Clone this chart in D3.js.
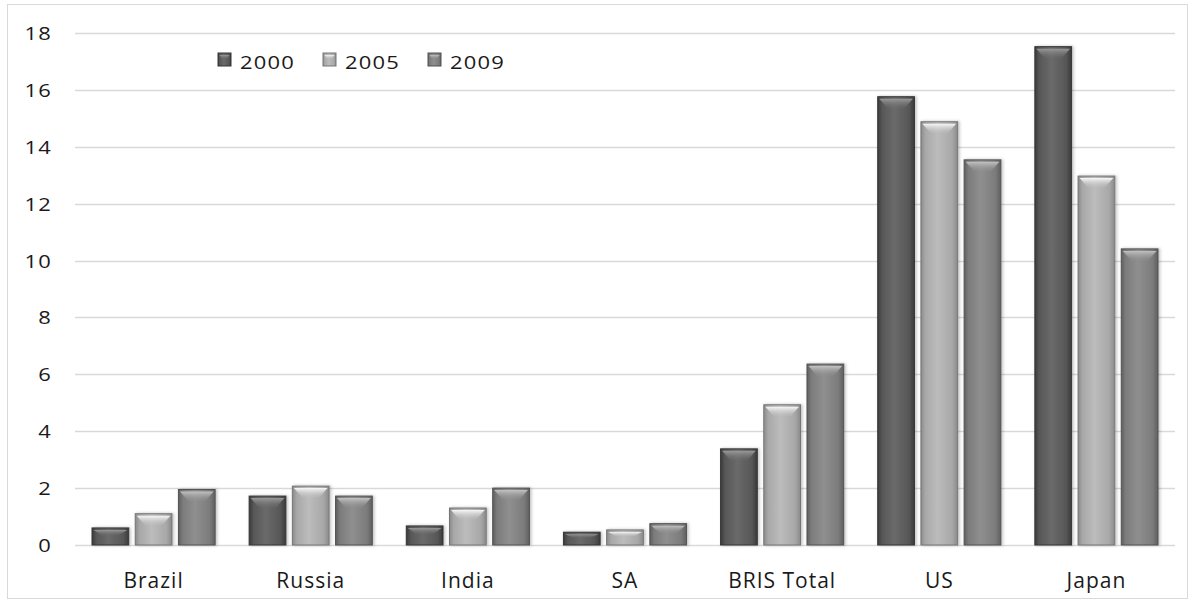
<!DOCTYPE html>
<html>
<head>
<meta charset="utf-8">
<script src="https://cdn.jsdelivr.net/npm/d3@7"></script>
<style>
  html, body { margin: 0; padding: 0; background: #fff; }
  svg { display: block; }
  text { font-family: "Open Sans", sans-serif; fill: #1a1a1a; }
</style>
</head>
<body>
<svg id="chart" width="1194" height="604"></svg>
<script>
const categories = ["Brazil", "Russia", "India", "SA", "BRIS Total", "US", "Japan"];
const seriesNames = ["2000", "2005", "2009"];
const values2000 = [0.6, 1.72, 0.67, 0.45, 3.38, 15.76, 17.52];
const values2005 = [1.1, 2.07, 1.3, 0.53, 4.93, 14.88, 12.97];
const values2009 = [1.95, 1.72, 2.0, 0.75, 6.36, 13.54, 10.41];
const yTicks = [0, 2, 4, 6, 8, 10, 12, 14, 16, 18];

const seriesValues = [values2000, values2005, values2009];
const palette = {
  "2000": { base: "#575757", light: "#6a6a6a", dark: "#3a3a3a", cap: "#9a9a9a", edge: "#363636" },
  "2005": { base: "#a8a8a8", light: "#bcbcbc", dark: "#8a8a8a", cap: "#f7f7f7", edge: "#767676" },
  "2009": { base: "#7c7c7c", light: "#8f8f8f", dark: "#5f5f5f", cap: "#c2c2c2", edge: "#525252" }
};

const svg = d3.select("#chart");
svg.append("rect").attr("x", 7.5).attr("y", 4.5).attr("width", 1180).attr("height", 594)
  .attr("fill", "#fff").attr("stroke", "#d9d9d9");

const plot = { left: 75, right: 1175, top: 33, bottom: 545 };
const y = d3.scaleLinear().domain([0, 18]).range([plot.bottom, plot.top]);
const x0 = d3.scaleBand().domain(categories).range([plot.left, plot.right]).padding(0);
const x1 = d3.scaleBand().domain(seriesNames).range([17, x0.bandwidth() - 17]).paddingInner(0.15).paddingOuter(0);

// gradients for the bevelled bars
const defs = svg.append("defs");
seriesNames.forEach(s => {
  const p = palette[s];
  const g = defs.append("linearGradient").attr("id", "body" + s).attr("x1", 0).attr("x2", 1).attr("y1", 0).attr("y2", 0);
  g.append("stop").attr("offset", "0%").attr("stop-color", p.dark);
  g.append("stop").attr("offset", "12%").attr("stop-color", p.base);
  g.append("stop").attr("offset", "45%").attr("stop-color", p.light);
  g.append("stop").attr("offset", "85%").attr("stop-color", p.base);
  g.append("stop").attr("offset", "100%").attr("stop-color", p.dark);
  const c = defs.append("linearGradient").attr("id", "cap" + s).attr("x1", 0).attr("x2", 0).attr("y1", 0).attr("y2", 1);
  c.append("stop").attr("offset", "0%").attr("stop-color", p.cap);
  c.append("stop").attr("offset", "100%").attr("stop-color", p.light).attr("stop-opacity", 0.15);
});
const shadow = defs.append("filter").attr("id", "shadow").attr("x", "-20%").attr("y", "-20%").attr("width", "140%").attr("height", "140%");
shadow.append("feDropShadow").attr("dx", 1.5).attr("dy", 0).attr("stdDeviation", 1.5).attr("flood-color", "#000").attr("flood-opacity", 0.25);

// grid lines
svg.append("g").selectAll("line").data(yTicks).join("line")
  .attr("x1", plot.left).attr("x2", plot.right)
  .attr("y1", d => Math.round(y(d)) + 0.5).attr("y2", d => Math.round(y(d)) + 0.5)
  .attr("stroke", "#d9d9d9").attr("stroke-width", 1.5);

// y axis labels
const yAxis = d3.axisLeft(y).tickValues(yTicks).tickSize(0).tickPadding(0).tickFormat(d3.format("d"));
const yg = svg.append("g").attr("transform", `translate(${plot.left - 23},0)`).call(yAxis);
yg.select(".domain").remove();
yg.selectAll("text").attr("font-size", 18).attr("letter-spacing", 1).attr("dy", "0.36em")
  .attr("font-family", "Open Sans").attr("fill", "#1a1a1a")
  .attr("transform", "scale(1.22,1)");

// x axis labels
const xAxis = d3.axisBottom(x0).tickSize(0).tickPadding(0);
const xg = svg.append("g").attr("transform", `translate(0,${plot.bottom + 43})`).call(xAxis);
xg.select(".domain").remove();
xg.selectAll("text").attr("font-size", 21).attr("letter-spacing", 1).attr("dy", 0)
  .attr("font-family", "Open Sans").attr("fill", "#1a1a1a");

// bars
const rows = categories.map((c, i) => ({ cat: c, items: seriesNames.map((s, j) => ({ s, v: seriesValues[j][i] })) }));
const groups = svg.append("g").selectAll("g").data(rows).join("g")
  .attr("transform", d => `translate(${x0(d.cat)},0)`);
const bar = groups.selectAll("g.bar").data(d => d.items).join("g").attr("class", "bar");
bar.append("rect")
  .attr("x", d => x1(d.s)).attr("y", d => y(d.v))
  .attr("width", x1.bandwidth()).attr("height", d => y(0) - y(d.v))
  .attr("fill", d => `url(#body${d.s})`)
  .attr("stroke", d => palette[d.s].edge).attr("stroke-width", 1)
  .attr("filter", "url(#shadow)");
bar.append("polygon")
  .attr("points", d => {
    const x = x1(d.s), w = x1.bandwidth(), top = y(d.v);
    const h = Math.min(12, (y(0) - top) * 0.45);
    const inset = w * 0.28;
    return [[x + 1.5, top + 2], [x + w - 1.5, top + 2], [x + w - inset, top + h], [x + inset, top + h]].map(p => p.join(",")).join(" ");
  })
  .attr("fill", d => `url(#cap${d.s})`);

// legend
const legend = svg.append("g").attr("transform", "translate(218,53)");
const li = legend.selectAll("g").data(seriesNames).join("g").attr("transform", (d, i) => `translate(${i * 105},0)`);
li.append("rect").attr("width", 13).attr("height", 13)
  .attr("fill", d => `url(#body${d})`).attr("stroke", d => palette[d].edge);
li.append("polygon").attr("points", "1.5,2 11.5,2 9,6 4,6").attr("fill", d => `url(#cap${d})`);
li.append("text").attr("x", 0).attr("y", 0).attr("font-size", 18).attr("letter-spacing", 1)
  .attr("transform", "translate(22,68.5) scale(1.22,1)").attr("dy", -53).text(d => d);
</script>
</body>
</html>
